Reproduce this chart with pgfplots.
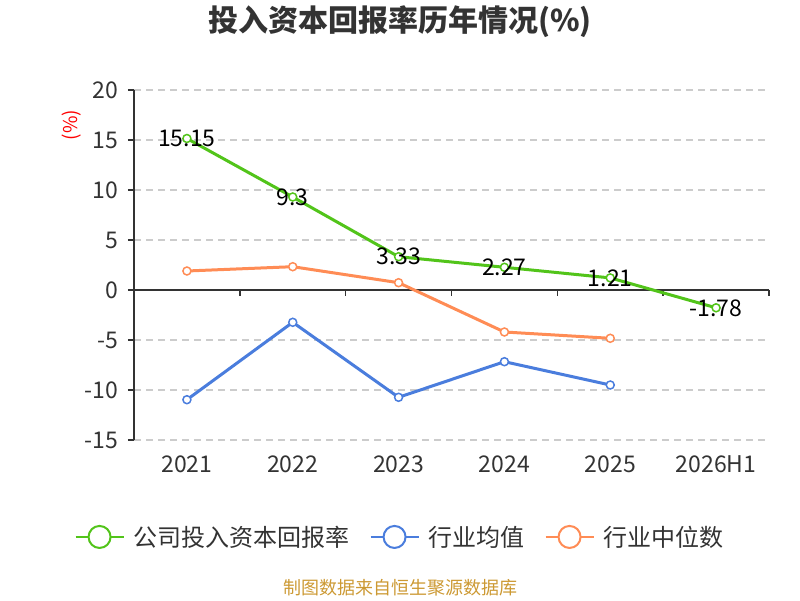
\documentclass[border=0pt]{standalone}
\usepackage{fontspec}
\setmainfont{Noto Sans CJK SC}
\usepackage{pgfplots}
\pgfplotsset{compat=1.18}
\definecolor{cgreen}{RGB}{82,196,26}
\definecolor{cblue}{RGB}{74,125,221}
\definecolor{corange}{RGB}{255,140,85}
\definecolor{axgray}{RGB}{51,51,51}
\definecolor{gridgray}{RGB}{204,204,204}
\definecolor{srcgold}{RGB}{204,153,51}
\begin{document}
\begin{tikzpicture}
\path[use as bounding box] (0,0) rectangle (800pt,600pt);
\begin{axis}[
  at={(134pt,160pt)}, anchor=south west,
  scale only axis, width=635pt, height=350pt,
  xmin=-0.5, xmax=5.5, ymin=-15, ymax=20,
  ytick={-15,-10,...,20},
  xtick={0,...,5}, xticklabels={2021,2022,2023,2024,2025,2026H1},
  axis x line*=bottom, axis y line*=left,
  x axis line style={draw=none},
  y axis line style={draw=axgray, line width=1.5pt, -},
  xtick style={draw=none},
  ytick style={draw=axgray, line width=1.5pt},
  tick align=outside, major tick length=6pt,
  ymajorgrids, grid style={gridgray, line width=1.3pt, dash pattern=on 7pt off 5pt},
  tick label style={font=\fontsize{23}{27}\selectfont, text=axgray},
  /pgf/number format/assume math mode=true,
  xticklabel style={yshift=-6pt},
  yticklabel style={xshift=-6pt},
  clip=false,
  legend columns=3,
  legend cell align=left,
  legend style={draw=none, fill=none, at={(0.419,-0.277)}, anchor=center,
    font=\fontsize{24}{28}\selectfont, text=axgray,
    /tikz/every odd column/.append style={column sep=7pt},
    /tikz/every even column/.append style={column sep=18pt}},
  legend image code/.code={
    \draw[#1, line width=2pt, mark=none] (0pt,0pt) -- (48pt,0pt);
    \draw[#1, line width=2pt, fill=white, mark=none] (24pt,0pt) circle (11pt);
  },
  nodes near coords style={anchor=center, font=\fontsize{23}{27}\selectfont, text=black},
]
\draw[axgray, line width=1.5pt] (axis cs:-0.5,0) -- (axis cs:5.5,0);
\draw[axgray, line width=1.5pt]
  (axis cs:0.5,0) -- ++(0pt,-6pt)
  (axis cs:1.5,0) -- ++(0pt,-6pt)
  (axis cs:2.5,0) -- ++(0pt,-6pt)
  (axis cs:3.5,0) -- ++(0pt,-6pt)
  (axis cs:4.5,0) -- ++(0pt,-6pt)
  (axis cs:5.5,0) -- ++(0pt,-6pt);
\addplot[cgreen, line width=3pt, mark=*, mark size=4pt, mark options={fill=white, line width=1.5pt},
  point meta=explicit symbolic, nodes near coords]
  coordinates {(0,15.15)[15.15] (1,9.3)[9.3] (2,3.33)[3.33] (3,2.27)[2.27] (4,1.21)[1.21] (5,-1.78)[-1.78]};
\addlegendentry{公司投入资本回报率}
\addplot[cblue, line width=3pt, mark=*, mark size=4pt, mark options={fill=white, line width=1.5pt}]
  coordinates {(0,-10.97) (1,-3.23) (2,-10.73) (3,-7.17) (4,-9.5)};
\addlegendentry{行业均值}
\addplot[corange, line width=3pt, mark=*, mark size=4pt, mark options={fill=white, line width=1.5pt}]
  coordinates {(0,1.9) (1,2.33) (2,0.73) (3,-4.2) (4,-4.83)};
\addlegendentry{行业中位数}
\end{axis}
\node[font=\fontsize{30}{34}\selectfont\bfseries, text=axgray] at (400pt,578pt) {投入资本回报率历年情况(\%)};
\node[rotate=90, text=red, font=\fontsize{19}{22}\selectfont] at (72pt,475pt) {(\%)};
\node[font=\fontsize{18}{21}\selectfont, text=srcgold] at (400pt,12pt) {制图数据来自恒生聚源数据库};
\end{tikzpicture}
\end{document}
